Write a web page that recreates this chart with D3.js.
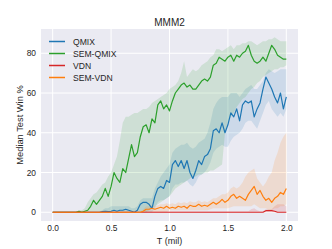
<!DOCTYPE html>
<html>
<head>
<meta charset="utf-8">
<script src="https://cdn.jsdelivr.net/npm/d3@7"></script>
<style>
  body { margin: 0; background: #fff; }
  text { font-family: "Liberation Sans", Arial, sans-serif; fill: #262626; }
</style>
</head>
<body>
<div id="chart"></div>
<script>
// timesteps (millions)
const T = [
  0.000, 0.025, 0.050, 0.075, 0.100, 0.125, 0.150, 0.175, 0.200, 0.225,
  0.250, 0.275, 0.300, 0.325, 0.350, 0.375, 0.400, 0.425, 0.450, 0.475,
  0.500, 0.525, 0.550, 0.575, 0.600, 0.625, 0.650, 0.675, 0.700, 0.725,
  0.750, 0.775, 0.800, 0.825, 0.850, 0.875, 0.900, 0.925, 0.950, 0.975,
  1.000, 1.025, 1.050, 1.075, 1.100, 1.125, 1.150, 1.175, 1.200, 1.225,
  1.250, 1.275, 1.300, 1.325, 1.350, 1.375, 1.400, 1.425, 1.450, 1.475,
  1.500, 1.525, 1.550, 1.575, 1.600, 1.625, 1.650, 1.675, 1.700, 1.725,
  1.750, 1.775, 1.800, 1.825, 1.850, 1.875, 1.900, 1.925, 1.950, 1.975,
  2.000
];

const qmixMean = [
  0, 0, 0, 0, 0, 0, 0, 0, 0, 0,
  0, 0, 0, 0, 0, 0, 0, 0.3, 0.5, 0.3,
  0.5, 1, 0.5, 1, 1, 1.5, 1, 0.5, 0, 1,
  4, 5, 5, 4, 2, 8, 12, 13, 12, 16,
  15, 24, 26, 23, 26, 22, 26, 20, 17, 21,
  26, 24, 28, 29, 32, 41, 42, 40, 45, 40,
  44, 50, 48, 52, 46, 54, 56, 55, 56, 48,
  52, 55, 62, 68, 65, 62, 58, 55, 60, 52,
  58
];
const qmixLow = [
  0, 0, 0, 0, 0, 0, 0, 0, 0, 0,
  0, 0, 0, 0, 0, 0, 0, 0, 0, 0,
  0, 0, 0, 0, 0, 0, 0, 0, 0, 0,
  0, 0, 0, 0, 0, 2, 5, 6, 6, 7,
  8, 12, 14, 14, 15, 15, 16, 14, 13, 15,
  18, 19, 20, 22, 25, 30, 32, 33, 34, 33,
  33, 36, 38, 39, 40, 42, 45, 46, 46, 44,
  42, 46, 50, 54, 56, 52, 50, 48, 50, 48,
  52
];
const qmixHigh = [
  0, 0, 0, 0, 0, 0, 0, 0, 0, 0,
  0, 0, 0, 0, 0, 0, 0, 1, 2, 2,
  3, 3, 3, 3, 3, 3, 3, 2, 2, 3,
  6, 7, 7, 7, 7, 12, 15, 18, 20, 22,
  24, 30, 32, 33, 34, 34, 35, 33, 32, 33,
  35, 36, 37, 40, 45, 52, 55, 57, 58, 58,
  58, 60, 60, 60, 58, 60, 62, 63, 64, 62,
  62, 64, 66, 70, 72, 71, 70, 71, 72, 72,
  72
];

const semQmixMean = [
  0, 0, 0, 0, 0, 0, 0, 0, 0, 0.5,
  0, 0.5, 1, 3, 6, 4, 6, 8, 12, 8,
  13, 20, 17, 15, 22, 20, 27, 34, 28, 30,
  38, 43, 44, 40, 47, 45, 54, 56, 52, 54,
  51, 56, 60, 62, 64, 65, 63, 64, 62, 62,
  64, 66, 67, 66, 68, 74, 75, 78, 77, 76,
  78, 79, 76, 79, 78, 80, 81, 84, 79, 76,
  75, 76, 78, 76, 80, 84, 82, 79, 78, 77,
  77
];
const semQmixLow = [
  0, 0, 0, 0, 0, 0, 0, 0, 0, 0,
  0, 0, 0, 0, 0, 0, 0, 0, 0, 0,
  0, 0, 0, 0, 0, 0, 0, 0, 0, 0,
  0, 0, 0, 1, 2, 3, 4, 5, 6, 7,
  8, 10, 12, 13, 14, 15, 16, 17, 18, 18,
  19, 19, 20, 20, 21, 21, 22, 23, 24, 40,
  45, 48, 50, 53, 55, 57, 58, 60, 62, 63,
  65, 66, 68, 69, 70, 71, 72, 72, 73, 73,
  74
];
const semQmixHigh = [
  0, 0, 0, 0, 0, 0, 0, 0, 0, 1,
  1, 2, 5, 7, 9, 10, 12, 14, 15, 18,
  20, 24, 28, 36, 45, 48, 48, 49, 50, 50,
  51, 52, 52, 53, 55, 56, 57, 58, 59, 60,
  62, 63, 64, 66, 70, 76, 68, 70, 72, 71,
  72, 74, 75, 76, 78, 79, 82, 82, 81, 82,
  83, 84, 82, 84, 84, 85, 85, 86, 86, 85,
  84, 85, 86, 86, 87, 87, 88, 87, 86, 86,
  86
];

const vdnMean = [
  0, 0, 0, 0, 0, 0, 0, 0, 0, 0,
  0, 0, 0, 0, 0, 0, 0, 0, 0, 0,
  0, 0, 0, 0, 0, 0, 0, 0, 0, 0,
  0, 0, 0, 0, 0, 0, 0, 0, 0, 0,
  0, 0, 0, 0, 0, 0, 0, 0, 0, 0,
  0, 0, 0, 0, 0, 0, 0, 0, 0, 0,
  0, 0, 0, 0, 0, 0, 0, 0, 0, 0,
  0, 0, 0, 0.8, 0.8, 0.8, 0.5, 0, 0, 0,
  0
];
const vdnLow = T.map(() => 0);
const vdnHigh = [
  0, 0, 0, 0, 0, 0, 0, 0, 0, 0,
  0, 0, 0, 0, 0, 0, 0, 0, 0, 0,
  0, 0, 0, 0, 0, 0, 0, 0, 0, 0,
  0, 0, 0.5, 0.5, 0.5, 0.5, 0.5, 0.5, 0.5, 0.5,
  0.5, 0.5, 0.5, 0.5, 0.5, 0.5, 0.5, 0.5, 0.5, 0.5,
  0.5, 0.5, 0.5, 0.5, 0.5, 0.5, 0.5, 0.5, 0.5, 0.5,
  0.5, 0.5, 0.5, 0.5, 0.5, 0.5, 0.5, 0.5, 1.5, 2,
  1, 0.5, 0.5, 1.5, 1.5, 1.5, 3, 4, 4, 4,
  3
];

const semVdnMean = [
  0, 0, 0, 0, 0, 0, 0, 0, 0, 0,
  0, 0, 0, 0, 0, 0, 0, 0, 0, 0,
  0, 0, 0, 0, 0, 0, 0, 0, 0, 0,
  0, 0.5, 1.5, 1.5, 2, 1.5, 2, 2.5, 2, 3,
  2, 2.5, 2, 3, 2.5, 3, 2, 3.5, 3, 3,
  4, 3, 3.5, 3, 4, 5, 4, 5, 6.5, 5,
  6, 8, 9, 7, 8, 7, 6, 9, 11, 13,
  9, 11, 8, 6, 7, 5, 7, 8, 10, 9,
  12
];
const semVdnLow = [
  0, 0, 0, 0, 0, 0, 0, 0, 0, 0,
  0, 0, 0, 0, 0, 0, 0, 0, 0, 0,
  0, 0, 0, 0, 0, 0, 0, 0, 0, 0,
  0, 0, 0, 0, 0, 0, 0, 0, 0, 0,
  1, 1, 1, 1, 1, 1, 1, 1, 1, 1,
  1, 1, 1, 1, 1.5, 2, 2, 2, 2, 2,
  2, 2.5, 3, 3, 3, 3, 3, 3, 3, 4,
  3, 2, 2, 2, 1, 1, 2, 2, 3, 3,
  4
];
const semVdnHigh = [
  0, 0, 0, 0, 0, 0, 0, 0, 0, 0,
  0, 0, 0, 0, 0, 0, 0, 0, 0, 0,
  0, 0, 0, 0, 0, 0, 0, 0, 0, 0,
  0, 1.5, 3, 3, 3.5, 3, 3.5, 4, 4, 4.5,
  4, 4.5, 4, 5, 4.5, 5, 4.5, 5.5, 5, 5,
  6, 5, 5.5, 5, 6, 7, 7, 8, 9, 9,
  10, 12, 13, 12, 13, 15, 18, 20, 21, 22,
  17, 15, 13, 15, 18, 20, 26, 30, 35, 38,
  40
];

const xTicks = [0, 0.5, 1.0, 1.5, 2.0];
const yTicks = [0, 20, 40, 60, 80];

const series = [
  { name: "QMIX", color: "#1f77b4", mean: qmixMean, low: qmixLow, high: qmixHigh },
  { name: "SEM-QMIX", color: "#2ca02c", mean: semQmixMean, low: semQmixLow, high: semQmixHigh },
  { name: "VDN", color: "#d62728", mean: vdnMean, low: vdnLow, high: vdnHigh },
  { name: "SEM-VDN", color: "#ff7f0e", mean: semVdnMean, low: semVdnLow, high: semVdnHigh }
];

const W = 332, H = 249;
const margin = { top: 29, right: 34, bottom: 28, left: 41 };
const width = W - margin.left - margin.right;
const height = H - margin.top - margin.bottom;

const svg = d3.select("#chart").append("svg")
  .attr("width", W)
  .attr("height", H);

const g = svg.append("g")
  .attr("transform", `translate(${margin.left}, ${margin.top})`);

const x = d3.scaleLinear().domain([-0.1, 2.1]).range([0, width]);
const y = d3.scaleLinear().domain([-4.4, 92.2]).range([height, 0]);

g.append("rect")
  .attr("width", width)
  .attr("height", height)
  .attr("fill", "#eaeaf2");

// grid
g.selectAll(".gx").data(xTicks).enter().append("line")
  .attr("x1", d => x(d)).attr("x2", d => x(d))
  .attr("y1", 0).attr("y2", height)
  .attr("stroke", "#fff").attr("stroke-width", 1);
g.selectAll(".gy").data(yTicks).enter().append("line")
  .attr("y1", d => y(d)).attr("y2", d => y(d))
  .attr("x1", 0).attr("x2", width)
  .attr("stroke", "#fff").attr("stroke-width", 1);

// axes (labels only, seaborn darkgrid style)
const xAxis = g.append("g")
  .attr("transform", `translate(0, ${height})`)
  .call(d3.axisBottom(x).tickValues(xTicks).tickFormat(d3.format(".1f")).tickSize(0).tickPadding(4.5));
const yAxis = g.append("g")
  .call(d3.axisLeft(y).tickValues(yTicks).tickSize(0).tickPadding(5));
[xAxis, yAxis].forEach(a => {
  a.select(".domain").remove();
  a.selectAll("text").attr("font-size", 8.4).attr("fill", "#262626")
    .attr("font-family", "Liberation Sans, Arial, sans-serif");
});

// bands and lines
series.forEach(s => {
  const area = d3.area()
    .x((d, i) => x(T[i]))
    .y0((d, i) => y(s.low[i]))
    .y1((d, i) => y(s.high[i]));
  g.append("path")
    .datum(s.mean)
    .attr("d", area)
    .attr("fill", s.color)
    .attr("fill-opacity", 0.15);
});
series.forEach(s => {
  const line = d3.line()
    .x((d, i) => x(T[i]))
    .y(d => y(d));
  g.append("path")
    .datum(s.mean)
    .attr("d", line)
    .attr("fill", "none")
    .attr("stroke", s.color)
    .attr("stroke-width", 1.2)
    .attr("stroke-linejoin", "round");
});

// legend
const legend = g.append("g").attr("transform", "translate(8, 12.5)");
series.forEach((s, i) => {
  const row = legend.append("g").attr("transform", `translate(0, ${i * 12})`);
  row.append("line")
    .attr("x1", 0).attr("x2", 16)
    .attr("stroke", s.color).attr("stroke-width", 1.5);
  row.append("text")
    .attr("x", 24).attr("y", 3)
    .attr("font-size", 8.6)
    .text(s.name);
});

// labels
svg.append("text")
  .attr("x", margin.left + width / 2).attr("y", 26)
  .attr("text-anchor", "middle")
  .attr("font-size", 10)
  .text("MMM2");
svg.append("text")
  .attr("x", margin.left + width / 2).attr("y", 243.5)
  .attr("text-anchor", "middle")
  .attr("font-size", 9)
  .text("T (mil)");
svg.append("text")
  .attr("transform", `translate(23, ${margin.top + height / 2}) rotate(-90)`)
  .attr("text-anchor", "middle")
  .attr("font-size", 9.3)
  .text("Median Test Win %");
</script>
</body>
</html>
